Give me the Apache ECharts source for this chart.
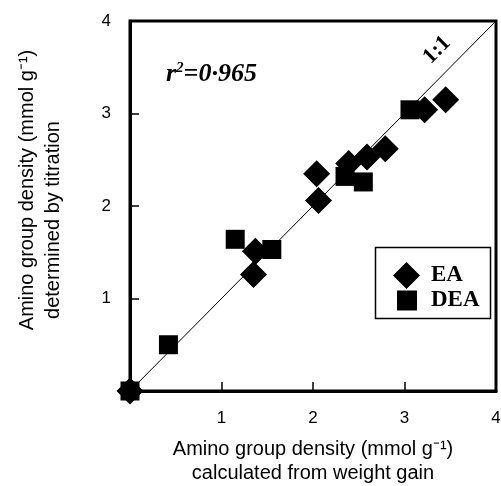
<!DOCTYPE html>
<html>
<head>
<meta charset="utf-8">
<script src="https://cdn.jsdelivr.net/npm/echarts@6/dist/echarts.min.js"></script>
<style>
  html, body { margin: 0; padding: 0; background: #fff; }
  #chart { width: 501px; height: 486px; }
</style>
</head>
<body>
<div id="chart"></div>
<script>
// EA（菱形）与 DEA（方块）两组数据：[按增重计算, 滴定测定]
const eaPoints = [
  [0, 0], [1.35, 1.26], [1.37, 1.51], [2.04, 2.35], [2.06, 2.06],
  [2.39, 2.46], [2.59, 2.53], [2.79, 2.62], [3.22, 3.04], [3.45, 3.15],
];
const deaPoints = [
  [0, 0], [0.42, 0.5], [1.15, 1.64], [1.55, 1.53], [2.35, 2.32],
  [2.55, 2.26], [3.06, 3.04],
];
const oneToOne = [[0, 0], [4, 4]];
const axisTicks = [0, 1, 2, 3, 4];

const sans = 'Liberation Sans, Arial, sans-serif';
const serif = 'Liberation Serif, Times New Roman, serif';

const chart = echarts.init(document.getElementById('chart'));

const axisCommon = {
  type: 'value',
  min: axisTicks[0],
  max: axisTicks[axisTicks.length - 1],
  interval: 1,
  splitLine: { show: false },
  axisLine: { show: true, lineStyle: { color: '#000', width: 3 } },
  axisTick: { show: true, inside: true, length: 9, lineStyle: { color: '#000', width: 1.5 } },
  axisLabel: {
    color: '#000', fontFamily: sans, fontSize: 17, margin: 19,
    formatter: v => (v === 0 ? '' : String(v)),
  },
  nameLocation: 'middle',
  nameTextStyle: { color: '#000', fontFamily: sans, fontSize: 20, lineHeight: 24 },
};

chart.setOption({
  animation: false,
  grid: {
    left: 130, top: 21, right: 5, bottom: 95,
    outerBoundsMode: 'none', containLabel: false,
    show: true, borderColor: '#000', borderWidth: 3,
  },
  xAxis: Object.assign({}, axisCommon, {
    name: 'Amino group density (mmol g⁻¹)\ncalculated from weight gain',
    nameGap: 46,
  }),
  yAxis: Object.assign({}, axisCommon, {
    name: '{a|Amino group density (mmol g⁻¹)}\n{b|determined by titration}',
    nameGap: 64,
    nameTextStyle: {
      color: '#000', fontFamily: sans, fontSize: 20, lineHeight: 26,
      rich: {
        a: { fontFamily: sans, fontSize: 20, lineHeight: 26, color: '#000', padding: [0, 0, 0, 32] },
        b: { fontFamily: sans, fontSize: 20, lineHeight: 26, color: '#000', padding: [0, 28, 0, 0] },
      },
    },
  }),
  legend: [
    {
      data: ['EA'], left: 388, top: 257, itemWidth: 27, itemHeight: 27,
      textStyle: { fontFamily: serif, fontWeight: 'bold', fontSize: 23, color: '#000', padding: [0, 0, 0, 6] },
    },
    {
      data: ['DEA'], left: 392, top: 284, itemWidth: 20, itemHeight: 20,
      textStyle: { fontFamily: serif, fontWeight: 'bold', fontSize: 23, color: '#000', padding: [0, 0, 0, 9] },
    },
  ],
  graphic: [
    {
      type: 'rect', left: 373, top: 245,
      shape: { width: 115, height: 71 },
      style: { fill: 'none', stroke: '#000', lineWidth: 1.5 },
    },
    {
      type: 'text', left: 166, top: 61,
      style: {
        text: '{r|r}{sup|2}{r|=0·965}',
        rich: {
          r: { fontFamily: serif, fontStyle: 'italic', fontWeight: 'bold', fontSize: 26, fill: '#000', lineHeight: 27 },
          sup: { fontFamily: serif, fontStyle: 'italic', fontWeight: 'bold', fontSize: 15, fill: '#000', lineHeight: 27, verticalAlign: 'top', padding: [0, 0, 18, 0] },
        },
      },
    },
    {
      type: 'text', x: 437, y: 50, rotation: Math.PI / 4,
      style: {
        text: '1:1', fontFamily: serif, fontWeight: 'bold', fontSize: 22,
        fill: '#000', align: 'center', verticalAlign: 'middle',
      },
    },
  ],
  series: [
    {
      name: '1:1', type: 'line', data: oneToOne, showSymbol: false, symbol: 'none',
      lineStyle: { color: '#000', width: 1 }, z: 1, silent: true,
    },
    {
      name: 'DEA', type: 'scatter', data: deaPoints, symbol: 'rect', symbolSize: 19,
      itemStyle: { color: '#000', opacity: 1 }, clip: false, z: 3,
    },
    {
      name: 'EA', type: 'scatter', data: eaPoints, symbol: 'diamond', symbolSize: 27,
      itemStyle: { color: '#000', opacity: 1 }, clip: false, z: 4,
    },
  ],
});
</script>
</body>
</html>
